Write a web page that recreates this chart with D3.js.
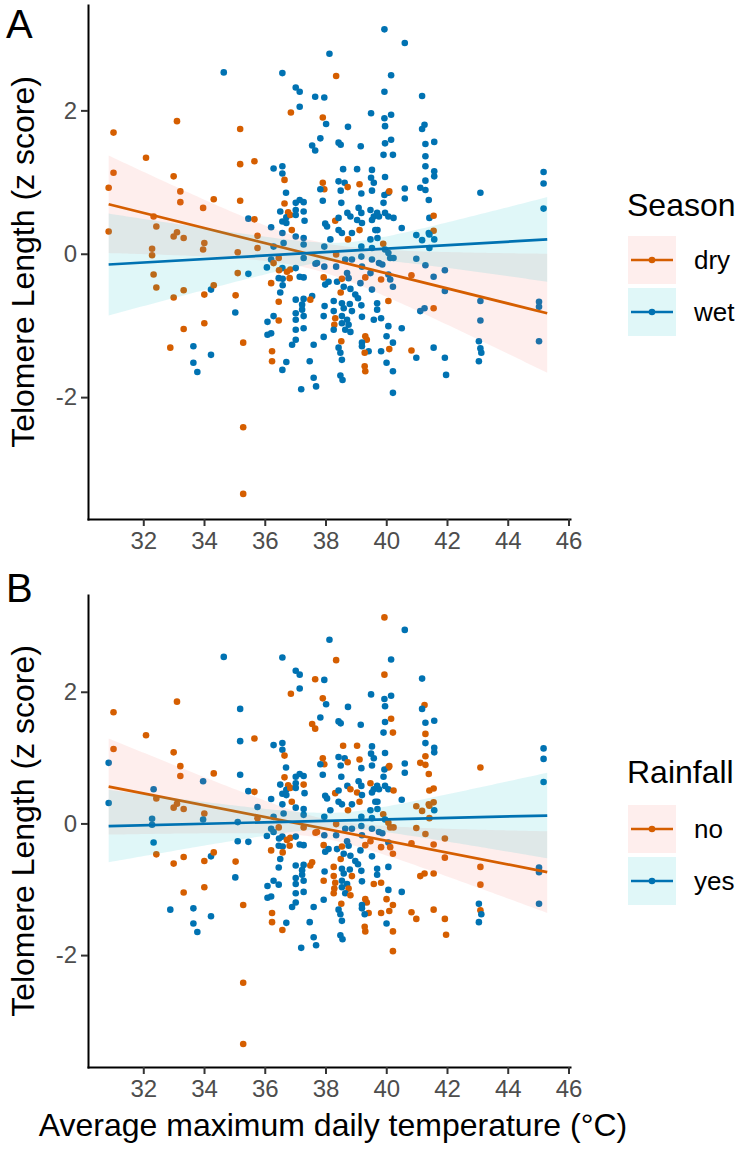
<!DOCTYPE html>
<html><head><meta charset="utf-8">
<script src="https://cdn.jsdelivr.net/npm/d3@7"></script>
<style>
body{margin:0;background:#fff}
svg{display:block}
text{font-family:Arial,"Liberation Sans",sans-serif}
</style>
</head><body>
<svg id="chart" width="741" height="1153"></svg>
<script>
// ---------- data ----------
const temp = [
34.65,31.02,33.11,35.19,32.09,31.02,30.86,35.19,35.66,33.00,33.22,33.22,34.32,33.97,35.19,35.46,35.66,32.34,32.43,30.86,33.11,33.00,33.33,34.01,33.97,32.29,32.29,35.11,32.34,35.11,35.46,32.43,33.00,33.33,34.01,34.23,34.32,35.04,35.03,33.33,34.01,32.89,33.65,33.65,33.78,34.23,35.29,35.29,35.29,
36.58,37.02,37.15,37.66,37.15,36.86,37.56,37.66,36.29,36.58,36.58,36.65,36.70,36.65,37.15,37.28,36.51,36.77,37.02,37.02,37.28,36.71,36.84,37.02,37.31,36.58,36.71,36.21,35.76,35.76,36.89,36.58,37.02,37.28,37.28,36.62,37.28,36.29,36.21,36.07,36.29,36.46,36.58,36.47,36.73,36.84,36.82,37.02,37.15,37.28,37.67,36.46,36.59,36.21,36.59,36.51,37.02,37.28,37.56,37.50,36.46,37.23,37.23,37.02,37.28,37.02,37.28,36.29,36.09,36.46,36.21,36.09,37.02,37.02,37.61,36.90,36.24,36.24,36.71,36.58,37.48,37.61,37.20,
38.13,38.35,37.96,37.91,38.02,38.74,39.50,37.83,38.43,38.50,39.16,38.58,39.04,39.53,39.50,37.91,37.96,37.83,38.43,38.63,38.73,38.50,39.12,39.18,39.53,37.91,38.52,38.72,38.82,38.32,38.43,39.09,39.18,39.04,39.20,39.48,39.53,37.99,38.05,38.43,38.54,38.16,38.74,38.87,39.12,39.18,39.48,39.53,37.72,37.96,38.35,38.65,38.87,39.18,39.53,37.96,38.35,37.94,38.10,37.99,38.38,38.54,38.71,38.76,39.31,39.20,39.15,39.48,39.53,38.50,38.60,38.82,38.98,39.07,39.59,37.97,37.94,38.27,38.27,38.54,38.60,38.80,38.87,39.18,39.20,38.32,38.29,38.54,38.54,38.71,38.76,38.65,38.27,38.52,38.82,39.31,39.36,39.20,39.20,39.42,39.29,37.94,38.43,38.49,38.54,39.29,39.31,38.49,38.56,37.69,
39.94,40.61,40.16,39.94,41.18,39.94,40.16,39.96,39.96,40.16,39.91,40.22,41.26,41.18,41.29,41.29,41.29,41.29,39.96,39.59,40.07,39.94,39.91,40.10,40.61,40.61,41.12,41.29,41.40,39.59,39.70,39.96,40.07,40.24,40.51,39.76,39.71,39.64,39.71,39.90,39.96,40.07,40.13,40.24,40.99,41.18,41.40,40.99,41.29,39.76,39.87,39.83,40.07,40.13,40.22,40.83,39.70,39.70,40.07,39.83,41.12,41.26,40.51,40.07,40.01,40.22,40.10,39.83,40.83,40.99,40.01,40.22,40.22,
41.58,41.58,41.58,41.42,41.56,41.56,41.42,41.58,41.42,41.56,41.93,41.93,41.56,41.56,41.93,41.97,43.10,43.10,43.10,43.05,43.10,43.13,43.05,45.18,45.18,45.18,45.03,45.03,45.03
];
const telomere = [
2.53,1.69,1.85,1.74,1.34,1.13,0.92,1.25,1.29,1.08,0.87,0.72,0.76,0.64,0.74,0.49,0.48,0.52,0.38,0.31,0.30,0.24,0.22,0.15,0.06,0.07,-0.02,0.02,-0.29,-0.27,-0.28,-0.47,-0.61,-0.51,-0.57,-0.50,-0.44,-0.58,-0.82,-1.05,-0.97,-1.31,-1.29,-1.52,-1.65,-1.41,-1.24,-2.42,-3.35,
2.52,2.32,2.26,2.19,2.05,1.97,1.51,1.44,1.19,1.22,1.12,1.03,0.85,0.70,0.75,0.72,0.59,0.58,0.71,0.61,0.59,0.51,0.54,0.54,0.46,0.45,0.43,0.37,0.25,0.08,0.33,0.29,0.24,0.22,0.13,0.15,-0.06,0.10,-0.08,-0.19,-0.13,-0.06,-0.20,-0.23,-0.25,-0.22,-0.34,-0.20,-0.32,-0.33,-0.14,-0.34,-0.35,-0.41,-0.44,-0.54,-0.64,-0.63,-0.59,-0.64,-0.67,-0.71,-0.78,-0.83,-0.87,-0.92,-1.04,-0.87,-0.95,-0.93,-1.11,-1.13,-1.06,-1.20,-1.27,-1.27,-1.36,-1.50,-1.51,-1.62,-1.50,-1.73,-1.89,
2.79,2.48,2.18,1.90,1.81,1.77,1.96,1.61,1.55,1.52,1.50,1.18,1.18,1.17,1.06,0.99,0.90,0.90,1.01,0.99,0.93,0.88,0.97,0.84,0.88,0.74,0.71,0.57,0.52,0.46,0.50,0.64,0.57,0.47,0.43,0.61,0.47,0.42,0.38,0.33,0.29,0.20,0.20,0.29,0.33,0.10,0.20,0.08,-0.13,0.10,-0.01,-0.08,-0.08,-0.04,-0.08,-0.18,-0.18,-0.33,-0.39,-0.43,-0.39,-0.35,-0.27,-0.34,-0.33,-0.18,-0.41,-0.27,-0.50,-0.54,-0.46,-0.49,-0.57,-0.62,-0.92,-0.73,-0.87,-0.66,-0.80,-0.69,-0.76,-0.70,-0.80,-0.72,-0.88,-0.90,-0.99,-0.87,-0.97,-0.92,-0.99,-1.06,-1.06,-1.22,-1.09,-1.15,-1.20,-1.24,-1.29,-1.36,-1.38,-1.16,-1.31,-1.38,-1.48,-1.57,-1.64,-1.70,-1.76,-1.85,
3.13,2.94,2.49,2.26,2.20,1.89,1.94,1.78,1.54,1.59,1.38,1.38,1.80,1.74,1.53,1.36,1.22,1.02,1.07,0.99,0.85,0.82,0.71,0.87,0.91,0.77,0.92,0.89,0.75,0.52,0.57,0.57,0.52,0.50,0.36,0.52,0.33,0.33,0.22,0.14,0.06,0.01,-0.06,-0.06,0.26,0.19,0.29,-0.07,-0.16,-0.13,-0.15,-0.36,-0.29,-0.36,-0.46,-0.30,-0.69,-0.78,-0.66,-0.90,-0.80,-0.76,-1.04,-1.01,-1.15,-1.24,-1.33,-1.36,-1.35,-1.45,-1.52,-1.64,-1.94,
1.56,1.15,1.08,0.50,0.53,0.32,0.27,0.20,0.08,-0.32,-0.23,-0.52,-0.76,-1.31,-1.45,-1.69,0.85,-0.66,-0.93,-1.22,-1.32,-1.38,-1.50,1.14,0.98,0.63,-0.67,-0.74,-1.22
];
// season per point: d = dry, w = wet
const seasonCode =
  "wdddddddddddddd"+"w"+"dddddddddddd"+"dd"+"w"+"dddd"+"w"+"dd"+"w"+"ddd"+"wwww"+"ddd" +
  "wwwwwd"+"ww"+"wwwdwdwwwdwwwwdw"+"w"+"wwwdddwwwwwwwwwddwddddww"+"wwwwdwwwwwddwwwwwwwwdwwwww"+"wddwwwww" +
  "wdwdwwwwww"+"wwwwwddwww"+"dwdwwwwwwd"+"wwwwwwwwww"+"wwdwdwwwww"+"dwwwwwwdww"+"wdwwdwwwwd"+"wwwwwwwwww"+"wwwwwddwww"+"wwwdwddwww"+"dwwwwddwww" +
  "wwwwwwwwww"+"wwwwwwwwww"+"wwwdwwwwww"+"wwwwwwwwwd"+"wwwwwwwwww"+"wdwwwdwwdw"+"wwwwwwdwdw"+"www" +
  "wwwwddwwww"+"wwdwwwwwww"+"wwwwwwwww";
// rainfall per point: n = no, y = yes
const rainCode =
  "ynnynnyynnnnnyyynynynnnnyyyy"+"yyynnnnynnynnyyyyynnn" +
  "yyynyn"+"nn"+"yyynynyyynyynyny"+"y"+"yyyynnyyyyynyyyynyynnnyy"+"ynyynnyyynnyyyyyyyyyyyyyyy"+"ynnynyyy" +
  "ynynyyyyyy"+"ynnyynnyyy"+"nynyyyyynn"+"yyynynyyyy"+"yynynyyyny"+"nyyyyyynyy"+"ynyynyynyn"+"yyyynynnny"+"yynyynnyyy"+"nynnnnnyyn"+"yyyyynnyyy" +
  "nyynyyyyyn"+"ynnyynynyy"+"nyynyynnny"+"yyynyyyyyn"+"ynnnnnnnny"+"ynynnnyyyn"+"nnyynnnnnn"+"ynn" +
  "yyynnnnynn"+"nnnnnnnnny"+"nyyyyyyyy";
const season = seasonCode.split("").map(c => c === "d" ? "dry" : "wet");
const rainfall = rainCode.split("").map(c => c === "n" ? "no" : "yes");

const seasonLevels = ["dry", "wet"];
const rainLevels = ["no", "yes"];
const xTicks = [32, 34, 36, 38, 40, 42, 44, 46];
const yTicks = [-2, 0, 2];

// fitted lines and confidence bands
const fitRange = [30.86, 45.3];                 // x extent of the smooths
const seasonFitY = [[0.69, -0.83], [-0.15, 0.20]];  // y at the two ends
const seasonBandHW = [[0.68, 0.20, 0.83], [0.71, 0.12, 0.59]]; // half width: left, narrowest, right
const seasonBandX0 = [37.5, 38.6];
const rainFitY = [[0.56, -0.74], [-0.04, 0.12]];
const rainBandHW = [[0.73, 0.15, 0.62], [0.55, 0.12, 0.65]];
const rainBandX0 = [38.0, 38.3];

// ---------- drawing ----------
const pointColors = ["#D55E00", "#0072B2"];
const bandColors = ["#F8766D", "#00BFC4"];
const FONT = "Arial, 'Liberation Sans', sans-serif";
const svg = d3.select("#chart");
const x = d3.scaleLinear().domain([30.18, 46.05]).range([88, 570]);

const panels = [
  { y: d3.scaleLinear().domain([-3.70, 3.47]).range([519, 5]), group: season, levels: seasonLevels,
    fitY: seasonFitY, hw: seasonBandHW, x0: seasonBandX0, title: "Season", label: "A", labelY: 38,
    legendTitleY: 216, keyTop: 236 },
  { y: d3.scaleLinear().domain([-3.70, 3.47]).range([1067, 595]), group: rainfall, levels: rainLevels,
    fitY: rainFitY, hw: rainBandHW, x0: rainBandX0, title: "Rainfall", label: "B", labelY: 602,
    legendTitleY: 783, keyTop: 805 }
];

function halfWidth(xv, h, x0) {
  const left = xv < x0;
  const xe = left ? fitRange[0] : fitRange[1];
  const he = left ? h[0] : h[2];
  const k = (he * he - h[1] * h[1]) / ((xe - x0) * (xe - x0));
  return Math.sqrt(h[1] * h[1] + k * (xv - x0) * (xv - x0));
}

const pts = temp.map((t, i) => ({ t, z: telomere[i], i }));

panels.forEach(p => {
  const y = p.y;
  const g = svg.append("g");

  // points
  g.append("g").selectAll("circle").data(pts).join("circle")
    .attr("cx", d => x(d.t)).attr("cy", d => y(d.z)).attr("r", 3.3)
    .attr("fill", d => pointColors[p.levels.indexOf(p.group[d.i])]);

  // smooths
  const xs = d3.range(0, 121).map(k => fitRange[0] + k * (fitRange[1] - fitRange[0]) / 120);
  p.levels.forEach((lv, li) => {
    const [ya, yb] = p.fitY[li];
    const fit = xv => ya + (yb - ya) * (xv - fitRange[0]) / (fitRange[1] - fitRange[0]);
    const band = xs.map(xv => { const c = fit(xv), w = halfWidth(xv, p.hw[li], p.x0[li]); return { x: xv, lo: c - w, hi: c + w }; });
    g.append("path").datum(band)
      .attr("d", d3.area().x(d => x(d.x)).y0(d => y(d.lo)).y1(d => y(d.hi)))
      .attr("fill", bandColors[li]).attr("fill-opacity", 0.12);
    g.append("path").datum(fitRange.map(xv => ({ x: xv, v: fit(xv) })))
      .attr("d", d3.line().x(d => x(d.x)).y(d => y(d.v)))
      .attr("fill", "none").attr("stroke", pointColors[li]).attr("stroke-width", 2.7);
  });

  // axes
  const gx = g.append("g").attr("transform", `translate(0,${y.range()[0]})`)
    .call(d3.axisBottom(x).tickValues(xTicks).tickSize(7).tickPadding(6).tickSizeOuter(0));
  const gy = g.append("g").attr("transform", `translate(${x.range()[0]},0)`)
    .call(d3.axisLeft(y).tickValues(yTicks).tickSize(7).tickPadding(4).tickSizeOuter(0)
      .tickFormat(d => d < 0 ? "-" + Math.abs(d) : String(d)));
  [gx, gy].forEach(a => {
    a.select(".domain").attr("stroke", "#000").attr("stroke-width", 2).attr("stroke-linecap", "square");
    a.selectAll(".tick line").attr("stroke", "#333").attr("stroke-width", 2);
    a.selectAll(".tick text").attr("fill", "#4D4D4D").attr("font-size", 24).attr("font-family", FONT);
  });

  // y title
  const midY = (y.range()[0] + y.range()[1]) / 2;
  g.append("text").attr("transform", `translate(23,${midY}) rotate(-90)`)
    .attr("text-anchor", "middle").attr("dominant-baseline", "central")
    .attr("font-size", 32).attr("fill", "#000").text("Telomere Length (z score)");

  // panel label
  g.append("text").attr("x", 6).attr("y", p.labelY).attr("font-size", 40).attr("fill", "#000").text(p.label);

  // legend
  const lg = g.append("g");
  lg.append("text").attr("x", 627).attr("y", p.legendTitleY).attr("font-size", 32).attr("fill", "#000").text(p.title);
  p.levels.forEach((lv, li) => {
    const top = p.keyTop + li * 52;
    lg.append("rect").attr("x", 628).attr("y", top).attr("width", 48).attr("height", 48)
      .attr("fill", bandColors[li]).attr("fill-opacity", 0.12);
    lg.append("line").attr("x1", 631).attr("x2", 673).attr("y1", top + 24).attr("y2", top + 24)
      .attr("stroke", pointColors[li]).attr("stroke-width", 2.7);
    lg.append("circle").attr("cx", 652).attr("cy", top + 24).attr("r", 3.3).attr("fill", pointColors[li]);
    lg.append("text").attr("x", 694).attr("y", top + 24).attr("dominant-baseline", "central")
      .attr("font-size", 26).attr("fill", "#000").text(lv);
  });
});

// x title
svg.append("text").attr("x", 333).attr("y", 1136).attr("text-anchor", "middle")
  .attr("font-size", 32).attr("fill", "#000").text("Average maximum daily temperature (°C)");
</script>
</body></html>
